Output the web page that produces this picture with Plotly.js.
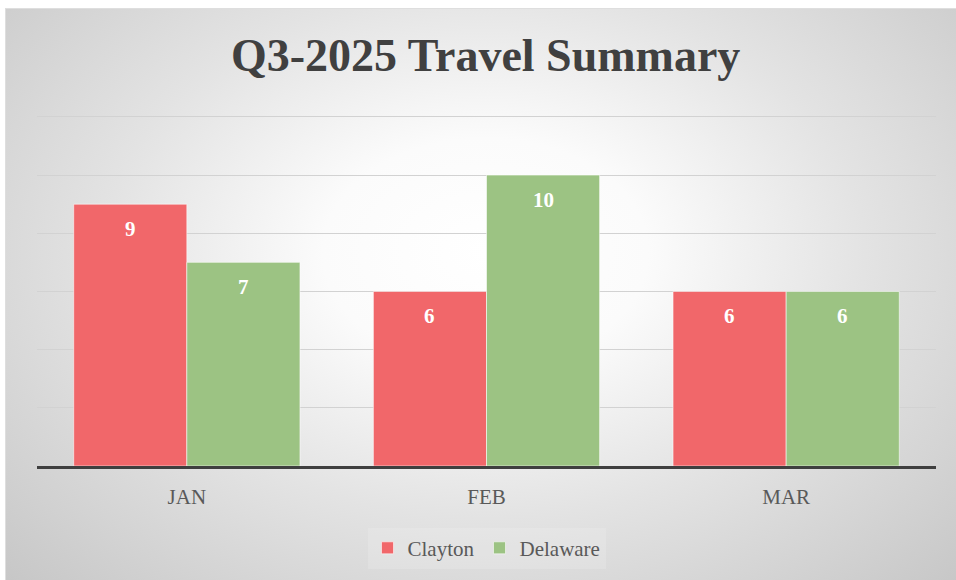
<!DOCTYPE html>
<html>
<head>
<meta charset="utf-8">
<script src="https://cdn.plot.ly/plotly-3.0.1.min.js"></script>
<style>
  html, body { margin: 0; padding: 0; background: #ffffff; }
  #wrap { position: relative; width: 956px; height: 580px; overflow: hidden; }
  #bg {
    position: absolute; left: 5px; top: 8px; width: 960px; height: 580px;
    box-sizing: border-box; border-top: 1px solid #dedede; border-left: 1px solid #dedede;
    background: radial-gradient(ellipse farthest-corner at 50% 42%, #ffffff 0%, #fbfbfb 24%, #e3e3e3 56%, #c6c6c6 100%);
  }
  #chart { position: absolute; left: 0; top: 0; width: 956px; height: 580px; }
</style>
</head>
<body>
<div id="wrap">
  <div id="bg"></div>
  <div id="chart"></div>
</div>
<script>
const months = ['JAN', 'FEB', 'MAR'];
const clayton = [9, 6, 6];
const delaware = [7, 10, 6];
const seriesNames = ['Clayton', 'Delaware'];
const chartTitle = 'Q3-2025 Travel Summary';

const serif = '"Liberation Serif", "DejaVu Serif", serif';
const colors = ['#f1676a', '#9cc383'];
const bargap = 0.245;
const half = (1 - bargap) / 4;

const series = [clayton, delaware];
const traces = series.map((vals, k) => ({
  type: 'bar',
  name: seriesNames[k],
  x: months,
  y: vals,
  marker: { color: colors[k], line: { color: 'rgba(255,255,255,0.55)', width: 1 } },
  hoverinfo: 'skip'
}));

const annotations = [];
series.forEach((vals, k) => {
  vals.forEach((v, i) => {
    annotations.push({
      xref: 'x', yref: 'y',
      x: i + (k === 0 ? -half : half),
      y: v,
      yshift: -25,
      yanchor: 'middle',
      text: String(v),
      showarrow: false,
      font: { family: serif, size: 21, color: '#ffffff', weight: 'bold' }
    });
  });
});

const layout = {
  width: 956, height: 580,
  paper_bgcolor: 'rgba(0,0,0,0)',
  plot_bgcolor: 'rgba(0,0,0,0)',
  margin: { l: 37, r: 20, t: 114, b: 113 },
  title: {
    text: '<b>' + chartTitle + '</b>',
    font: { family: serif, size: 46, color: '#404040' },
    x: 0.508, xanchor: 'center',
    y: 0.905, yanchor: 'middle', yref: 'container'
  },
  barmode: 'group',
  bargap: bargap,
  bargroupgap: 0,
  xaxis: {
    type: 'category',
    showline: true, linecolor: '#3f3f3f', linewidth: 3,
    ticks: '', showgrid: false, zeroline: false,
    ticklabelstandoff: 10,
    tickfont: { family: serif, size: 21, color: '#595959' }
  },
  yaxis: {
    range: [0, 12.1], tick0: 0, dtick: 2,
    showgrid: true, gridcolor: '#d2d2d2', gridwidth: 1,
    showticklabels: false, zeroline: false, ticks: '', showline: false
  },
  legend: {
    orientation: 'h',
    x: 0.5, xanchor: 'center',
    y: -0.23, yanchor: 'middle',
    bgcolor: 'rgba(255,255,255,0.15)',
    font: { family: serif, size: 21, color: '#595959' },
    itemwidth: 30,
    tracegroupgap: 0
  },
  annotations: annotations,
  showlegend: true
};

Plotly.newPlot('chart', traces, layout, { displayModeBar: false, staticPlot: true });
</script>
</body>
</html>
